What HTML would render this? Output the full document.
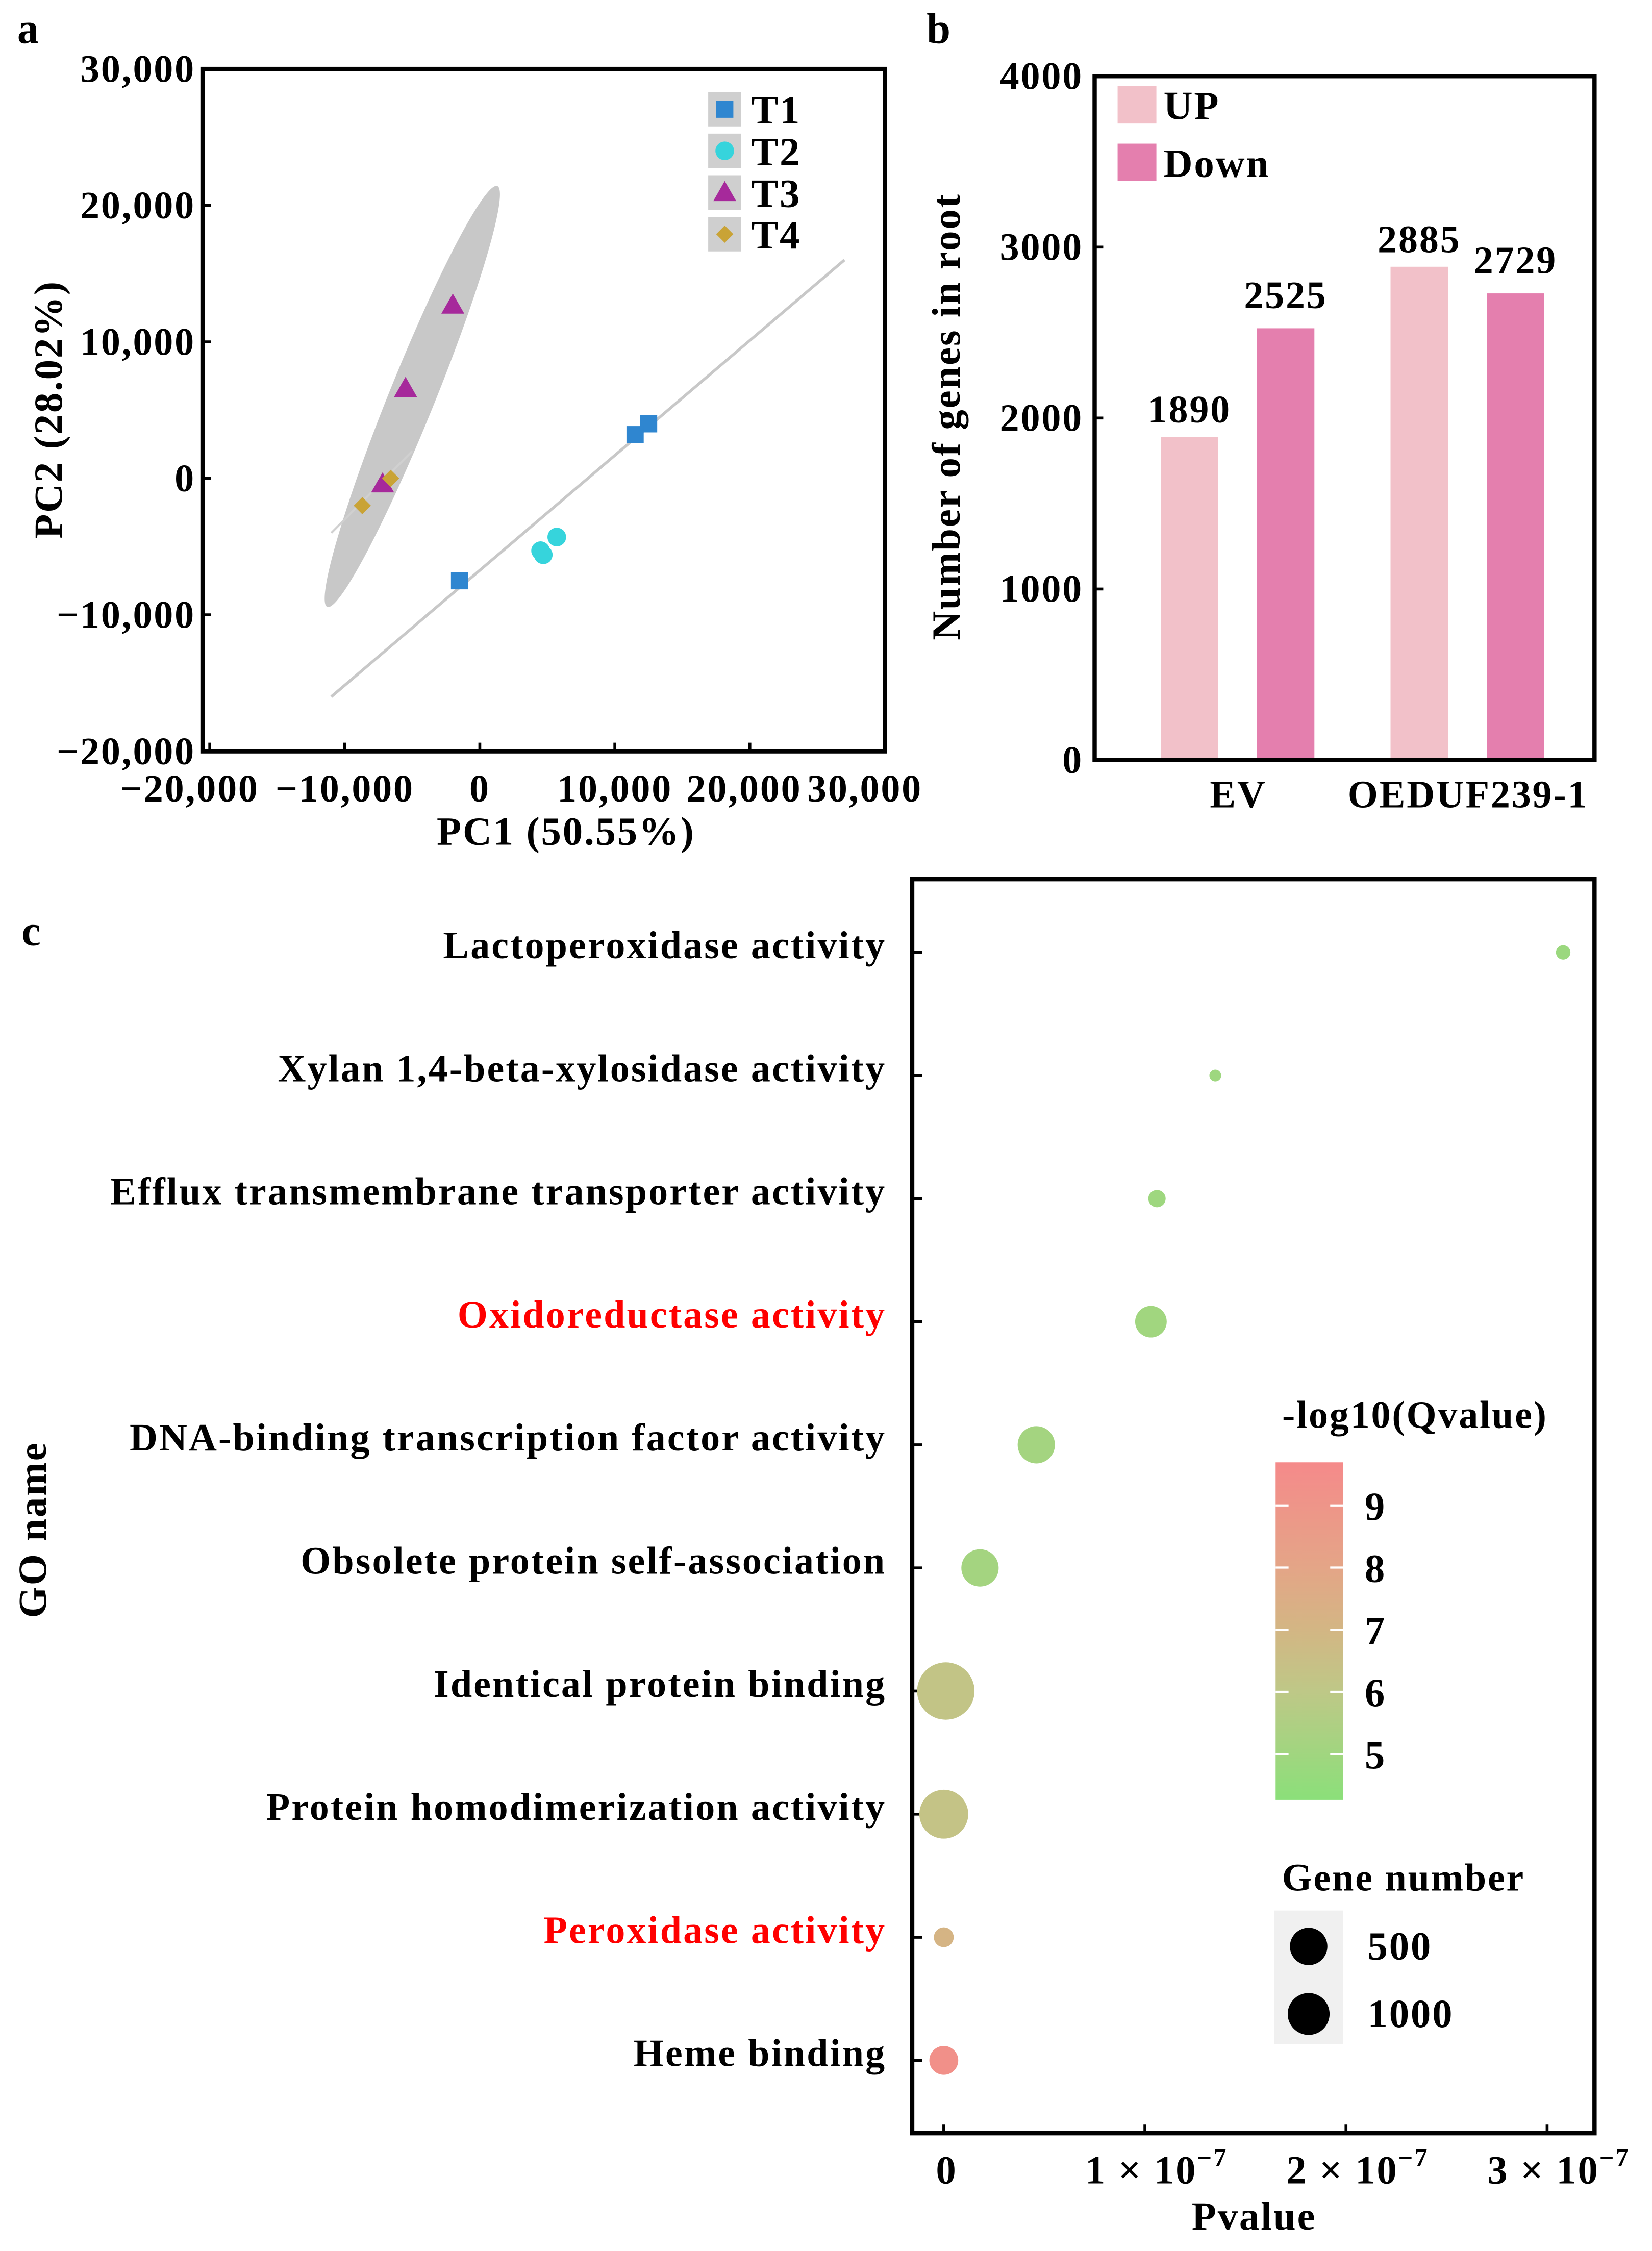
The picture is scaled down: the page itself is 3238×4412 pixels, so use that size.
<!DOCTYPE html>
<html><head><meta charset="utf-8">
<style>
html,body{margin:0;padding:0;background:#fff;}
svg{display:block;font-family:"Liberation Serif",serif;font-weight:bold;letter-spacing:1px;}
</style></head>
<body>
<svg id="fig" width="3238" height="4412" viewBox="0 0 1150 1567" xmlns="http://www.w3.org/2000/svg">
<rect width="1150" height="1567" fill="#fff"/>
<text x="12" y="30" font-size="30">a</text>
<text x="645" y="30" font-size="30">b</text>
<text x="15" y="658" font-size="30">c</text>
<g id="pa"></g>
<g id="pb"></g>
<g id="pc"></g>
</svg>
<script>
// ---- Panel a data
const pcaXTicks=[-20000,-10000,0,10000,20000,30000];
const pcaYTicks=[30000,20000,10000,0,-10000,-20000];
const t1X=[12500,11500,-1500], t1Y=[4000,3200,-7500];
const t2X=[4500,5700,4700], t2Y=[-5300,-4300,-5600];
const t3X=[-2000,-5500,-7200], t3Y=[12700,6600,-400];
const t4X=[-8700,-6600], t4Y=[-2000,0];
// ---- Panel b data
const barCats=["EV","OEDUF239-1"];
const upVals=[1890,2885];
const downVals=[2525,2729];
const barYTicks=[0,1000,2000,3000,4000];
// ---- Panel c data
const goNames=["Lactoperoxidase activity","Xylan 1,4-beta-xylosidase activity","Efflux transmembrane transporter activity","Oxidoreductase activity","DNA-binding transcription factor activity","Obsolete protein self-association","Identical protein binding","Protein homodimerization activity","Peroxidase activity","Heme binding"];
const goRed=[false,false,false,true,false,false,false,false,true,false];
const goP=[3.08e-7,1.35e-7,1.06e-7,1.03e-7,0.46e-7,0.18e-7,0.01e-7,0.0,0.0,0.0];
const goGenes=[90,60,130,430,600,600,1420,1030,170,360];
const goQ=[4.8,4.9,4.9,5.0,5.1,5.1,6.2,6.3,7.1,9.3];
const pTicks=[0,1e-7,2e-7,3e-7];
const pTickLabels=["0","1 × 10","2 × 10","3 × 10"];
const qTicks=[5,6,7,8,9];
const sizeLegend=[500,1000];

const NS="http://www.w3.org/2000/svg";
function el(tag,attrs,parent,txt){const e=document.createElementNS(NS,tag);for(const k in attrs)e.setAttribute(k,attrs[k]);if(txt!==undefined)e.textContent=txt;parent.appendChild(e);return e;}

// ===== Panel a
(function(){
const g=document.getElementById('pa');
const X=v=>334+v*0.0094, Y=v=>333-v*0.0095;
let r=el('rect',{x:141,y:48,width:475,height:475,fill:'none',stroke:'#000','stroke-width':3},g);

const cx=X(-5000),cy=Y(6000);
let e=el('ellipse',{cx:cx,cy:cy,rx:16,ry:158,fill:'#c8c8c8',transform:`rotate(22 ${cx} ${cy})`},g);

let l=el('line',{x1:X(-11000),y1:Y(-16000),x2:X(27000),y2:Y(16000),stroke:'#c8c8c8','stroke-width':2},g);

let l2=el('line',{x1:X(-11000),y1:Y(-4000),x2:X(-5000),y2:Y(2000),stroke:'#d0d0d0','stroke-width':1.5},g);

pcaXTicks.forEach(v=>{
 let t=el('line',{x1:X(v),y1:523,x2:X(v),y2:517,stroke:'#000','stroke-width':2},g);
 
 const off=v===-20000?-14:(v===30000?-14:(v===20000?-4:0));
 let tx=el('text',{x:X(v)+off,y:558,'font-size':27,'text-anchor':'middle'},g,(v<0?'\u2212':'')+Math.abs(v).toLocaleString('en-US'));
 
});
pcaYTicks.forEach(v=>{
 let t=el('line',{x1:141,y1:Y(v),x2:147,y2:Y(v),stroke:'#000','stroke-width':2},g);
 
 let tx=el('text',{x:136,y:Y(v)+9,'font-size':27,'text-anchor':'end'},g,(v<0?'\u2212':'')+Math.abs(v).toLocaleString('en-US'));
 
});
let xt=el('text',{x:394,y:588,'font-size':28,'text-anchor':'middle'},g,'PC1 (50.55%)');

let yt=el('text',{x:0,y:0,'font-size':28,'text-anchor':'middle',transform:'translate(43 285) rotate(-90)'},g,'PC2 (28.02%)');

function mark(type,x,y,parent){
 let m;
 if(type==='sq')m=el('rect',{x:x-6,y:y-6,width:12,height:12,fill:'#2f86d0'},parent);
 else if(type==='ci')m=el('circle',{cx:x,cy:y,r:6.5,fill:'#36d4dc'},parent);
 else if(type==='tr')m=el('polygon',{points:`${x},${y-8} ${x+8},${y+6} ${x-8},${y+6}`,fill:'#a6299b'},parent);
 else m=el('polygon',{points:`${x},${y-6} ${x+6},${y} ${x},${y+6} ${x-6},${y}`,fill:'#c9a336'},parent);
 return m;
}
t1X.forEach((v,i)=>{let m=mark('sq',X(v),Y(t1Y[i]),g);});
t2X.forEach((v,i)=>{let m=mark('ci',X(v),Y(t2Y[i]),g);});
t3X.forEach((v,i)=>{let m=mark('tr',X(v),Y(t3Y[i]),g);});
t4X.forEach((v,i)=>{let m=mark('di',X(v),Y(t4Y[i]),g);});
const leg=[['sq','T1'],['ci','T2'],['tr','T3'],['di','T4']];
leg.forEach((d,i)=>{
 const yy=76+i*29;
 let b=el('rect',{x:493,y:yy-12,width:23,height:24,fill:'#cfcfcf'},g);
 
 let m=mark(d[0],504.5,yy,g);
 let t=el('text',{x:523,y:yy+10,'font-size':28},g,d[1]);
 
});
})();

// ===== Panel b
(function(){
const g=document.getElementById('pb');
const Y=v=>529-v*0.119;
const groupCenter=[862,1022], bw=40;
barCats.forEach((c,i)=>{
 const cx=groupCenter[i];
 let u=el('rect',{x:cx-54,y:Y(upVals[i]),width:bw,height:529-Y(upVals[i]),fill:'#f2c1c9'},g);
 
 let d=el('rect',{x:cx+13,y:Y(downVals[i]),width:bw,height:529-Y(downVals[i]),fill:'#e47fae'},g);
 
 let ut=el('text',{x:cx-34,y:Y(upVals[i])-10,'font-size':27,'text-anchor':'middle'},g,String(upVals[i]));
 
 let dt=el('text',{x:cx+33,y:Y(downVals[i])-14,'font-size':27,'text-anchor':'middle'},g,String(downVals[i]));
 
 let ct=el('text',{x:cx,y:562,'font-size':27,'text-anchor':'middle'},g,c);
 
});
let r=el('rect',{x:762,y:53,width:348,height:476,fill:'none',stroke:'#000','stroke-width':3},g);

barYTicks.forEach(v=>{
 let t=el('line',{x1:762,y1:Y(v),x2:768,y2:Y(v),stroke:'#000','stroke-width':2},g);
 
 let tx=el('text',{x:754,y:Y(v)+9,'font-size':27,'text-anchor':'end'},g,String(v));
 
});
let yt=el('text',{x:0,y:0,'font-size':28,'text-anchor':'middle',transform:'translate(668 290) rotate(-90)'},g,'Number of genes in root');

[['#f2c1c9','UP',73],['#e47fae','Down',113]].forEach(d=>{
 let s=el('rect',{x:778,y:d[2]-13,width:27,height:26,fill:d[0]},g);
 
 let t=el('text',{x:810,y:d[2]+10,'font-size':28},g,d[1]);
 
});
})();

// ===== Panel c
(function(){
const g=document.getElementById('pc');
const X=p=>657+p*1.4e9;
const Yc=i=>663+i*85.7;
const qY=q=>1221-(q-5)*43.25;
function qColor(q){
 const stops=[[4.3,[140,223,122]],[6,[190,200,135]],[7,[211,182,132]],[8,[228,165,135]],[9.7,[245,138,138]]];
 if(q<=stops[0][0])return 'rgb('+stops[0][1]+')';
 for(let i=1;i<stops.length;i++){if(q<=stops[i][0]){const a=stops[i-1],b=stops[i],t=(q-a[0])/(b[0]-a[0]);return 'rgb('+a[1].map((c,k)=>Math.round(c+(b[1][k]-c)*t)).join(',')+')';}}
 return 'rgb('+stops[stops.length-1][1]+')';
}
const rad=n=>0.53*Math.sqrt(n);
let r=el('rect',{x:635,y:612,width:475,height:873,fill:'none',stroke:'#000','stroke-width':3},g);

goNames.forEach((n,i)=>{
 let t=el('line',{x1:635,y1:Yc(i),x2:642,y2:Yc(i),stroke:'#000','stroke-width':2},g);
 
 let tx=el('text',{x:617,y:Yc(i)+4,'font-size':27,'letter-spacing':'1.1','text-anchor':'end',fill:goRed[i]?'#ff0000':'#000'},g,n);
 
 let c=el('circle',{cx:X(goP[i]),cy:Yc(i),r:rad(goGenes[i]),fill:qColor(goQ[i])},g);
 
});
pTicks.forEach((p,i)=>{
 let t=el('line',{x1:X(p),y1:1485,x2:X(p),y2:1479,stroke:'#000','stroke-width':2},g);
 
 let tx=el('text',{x:X(p)+(i?8:2),y:1520,'font-size':28,'text-anchor':'middle'},g);
 
 tx.appendChild(document.createTextNode(pTickLabels[i]));
 if(i){el('tspan',{dy:-12,'font-size':18},tx,'\u22127');}
});
let xt=el('text',{x:873,y:1552,'font-size':28,'text-anchor':'middle'},g,'Pvalue');

let yt=el('text',{x:0,y:0,'font-size':28,'text-anchor':'middle',transform:'translate(32 1065) rotate(-90)'},g,'GO name');

const defs=el('defs',{},g);
const lg=el('linearGradient',{id:'qg',x1:0,y1:1,x2:0,y2:0},defs);
const qLo=5-(1253-1221)/43.25, qHi=5+(1221-1018)/43.25;
[4.3,6,7,8,9.7].forEach(q=>el('stop',{offset:Math.max(0,Math.min(1,(q-qLo)/(qHi-qLo))),'stop-color':qColor(q)},lg));
let ct=el('text',{x:985,y:994,'font-size':27,'text-anchor':'middle'},g,'-log10(Qvalue)');

let cb=el('rect',{x:888,y:1018,width:47,height:235,fill:'url(#qg)'},g);

qTicks.forEach(q=>{
 let a=el('line',{x1:888,y1:qY(q),x2:897,y2:qY(q),stroke:'#fff','stroke-width':1.5},g);
 
 let b=el('line',{x1:926,y1:qY(q),x2:935,y2:qY(q),stroke:'#fff','stroke-width':1.5},g);
 
 let t=el('text',{x:950,y:qY(q)+10,'font-size':28},g,String(q));
 
});
let st=el('text',{x:977,y:1316,'font-size':27,'text-anchor':'middle'},g,'Gene number');

let sb=el('rect',{x:887,y:1330,width:48,height:93,fill:'#f0f0f0'},g);

sizeLegend.forEach((n,i)=>{
 const yy=1355+i*47;
 let c=el('circle',{cx:911,cy:yy,r:rad(n)*(i?0.87:1.1),fill:'#000'},g);
 
 let t=el('text',{x:952,y:yy+9,'font-size':28},g,String(n));
 
});
})();
</script>
</body></html>
